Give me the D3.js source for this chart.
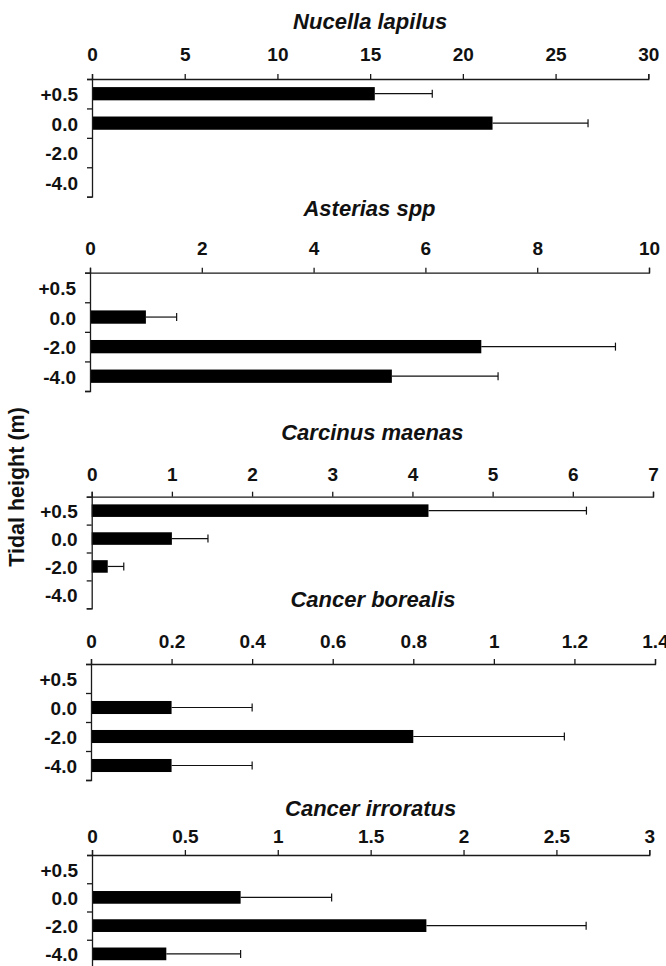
<!DOCTYPE html>
<html>
<head>
<meta charset="utf-8">
<script src="https://cdn.jsdelivr.net/npm/d3@7"></script>
<style>
  html, body { margin: 0; padding: 0; background: #fff; }
  svg { display: block; }
  text { font-family: "Liberation Sans", Arial, Helvetica, sans-serif; font-weight: bold; fill: #111; }
</style>
</head>
<body>
<svg id="chart" width="666" height="966"></svg>
<script>
// Tidal heights (m), top to bottom of each panel
const tidalHeights = ["+0.5", "0.0", "-2.0", "-4.0"];

const speciesNames = ["Nucella lapilus", "Asterias spp", "Carcinus maenas", "Cancer borealis", "Cancer irroratus"];

// Mean abundance and error at each tidal height (0 = none recorded)
const nucellaMean   = [15.25, 21.6, 0, 0];
const nucellaErr    = [3.1, 5.15, 0, 0];
const asteriasMean  = [0, 1.0, 7.0, 5.4];
const asteriasErr   = [0, 0.55, 2.4, 1.9];
const carcinusMean  = [4.2, 1.0, 0.2, 0];
const carcinusErr   = [1.97, 0.45, 0.2, 0];
const borealisMean  = [0, 0.2, 0.8, 0.2];
const borealisErr   = [0, 0.2, 0.375, 0.2];
const irroratusMean = [0, 0.8, 1.8, 0.4];
const irroratusErr  = [0, 0.49, 0.86, 0.4];

// Value-axis tick labels for each panel
const nucellaTicks   = ["0", "5", "10", "15", "20", "25", "30"];
const asteriasTicks  = ["0", "2", "4", "6", "8", "10"];
const carcinusTicks  = ["0", "1", "2", "3", "4", "5", "6", "7"];
const borealisTicks  = ["0", "0.2", "0.4", "0.6", "0.8", "1", "1.2", "1.4"];
const irroratusTicks = ["0", "0.5", "1", "1.5", "2", "2.5", "3"];

const means = [nucellaMean, asteriasMean, carcinusMean, borealisMean, irroratusMean];
const errs  = [nucellaErr, asteriasErr, carcinusErr, borealisErr, irroratusErr];
const ticks = [nucellaTicks, asteriasTicks, carcinusTicks, borealisTicks, irroratusTicks];

// Panel placement on the page
const layout = [
  { x0: 92,   x1: 648.3, top: 79,    bottom: 196.7, titleY: 21,  labelGap: 24.5 },
  { x0: 90,   x1: 649,   top: 272.7, bottom: 391,   titleY: 208.5, labelGap: 24.4 },
  { x0: 91.7, x1: 653,   top: 496.7, bottom: 608.3, titleY: 432, labelGap: 22.5 },
  { x0: 91,   x1: 655,   top: 664,   bottom: 780,   titleY: 599, labelGap: 22.8 },
  { x0: 92,   x1: 649.3, top: 855,   bottom: 968,   titleY: 808, labelGap: 18.6 }
];

const svg = d3.select("#chart");
const tickFont = 19, titleFont = 22, tickLen = 5;
const axisColor = "#1a1a1a";

speciesNames.forEach((name, i) => {
  const L = layout[i];
  const tickVals = ticks[i].map(Number);
  const x = d3.scaleLinear()
    .domain([0, d3.max(tickVals)])
    .range([L.x0, L.x1]);
  const y = d3.scaleBand()
    .domain(tidalHeights)
    .range([L.top, L.bottom])
    .paddingInner(0.55)
    .paddingOuter(0.275);
  const yEdge = d3.scaleLinear()
    .domain([0, tidalHeights.length])
    .range([L.top, L.bottom]);

  const g = svg.append("g");

  // Panel title
  g.append("text")
    .attr("x", (L.x0 + L.x1) / 2)
    .attr("y", L.titleY + 7.5)
    .attr("text-anchor", "middle")
    .style("font-size", titleFont + "px")
    .style("font-style", "italic")
    .text(name);

  // Bars
  const rows = tidalHeights.map((h, k) => ({ h, m: means[i][k], e: errs[i][k] }))
    .filter(d => d.m > 0);

  g.selectAll("rect.bar").data(rows).join("rect")
    .attr("class", "bar")
    .attr("x", x(0))
    .attr("y", d => y(d.h))
    .attr("width", d => x(d.m) - x(0))
    .attr("height", y.bandwidth())
    .attr("fill", "#000");

  // Error bars
  const cy = d => y(d.h) + y.bandwidth() / 2;
  g.selectAll("line.err").data(rows).join("line")
    .attr("class", "err")
    .attr("x1", d => x(d.m)).attr("x2", d => x(d.m + d.e))
    .attr("y1", cy).attr("y2", cy)
    .attr("stroke", "#111").attr("stroke-width", 1.2);
  g.selectAll("line.cap").data(rows).join("line")
    .attr("class", "cap")
    .attr("x1", d => x(d.m + d.e)).attr("x2", d => x(d.m + d.e))
    .attr("y1", d => cy(d) - 4).attr("y2", d => cy(d) + 4)
    .attr("stroke", "#111").attr("stroke-width", 1.2);

  // Top value axis
  const xAxis = g.append("g")
    .attr("transform", `translate(0,${L.top})`)
    .call(d3.axisTop(x)
      .tickValues(tickVals)
      .tickFormat((d, k) => ticks[i][k])
      .tickSize(tickLen)
      .tickSizeOuter(tickLen)
      .tickPadding(L.labelGap - 6.8 - tickLen));
  xAxis.selectAll("path, line").attr("stroke", axisColor).attr("stroke-width", 1.3);
  xAxis.selectAll("text")
    .style("font-size", tickFont + "px")
    .style("font-family", null)
    .attr("fill", "#111");

  // Left category axis: boundary ticks
  const edgeAxis = g.append("g")
    .attr("transform", `translate(${L.x0},0)`)
    .call(d3.axisLeft(yEdge)
      .tickValues(d3.range(tidalHeights.length + 1))
      .tickFormat("")
      .tickSize(tickLen)
      .tickSizeOuter(tickLen));
  edgeAxis.selectAll("path, line").attr("stroke", axisColor).attr("stroke-width", 1.3);

  // Left category axis: labels centred on each band
  const catAxis = g.append("g")
    .attr("transform", `translate(${L.x0},0)`)
    .call(d3.axisLeft(y).tickSize(0).tickPadding(14));
  catAxis.select(".domain").remove();
  catAxis.selectAll("text")
    .style("font-size", tickFont + "px")
    .style("font-family", null)
    .attr("dy", "0.4em")
    .attr("fill", "#111");
});

// Shared y-axis title
svg.append("text")
  .attr("transform", "translate(24,487) rotate(-90)")
  .attr("text-anchor", "middle")
  .style("font-size", "21.5px")
  .text("Tidal height (m)");
</script>
</body>
</html>
